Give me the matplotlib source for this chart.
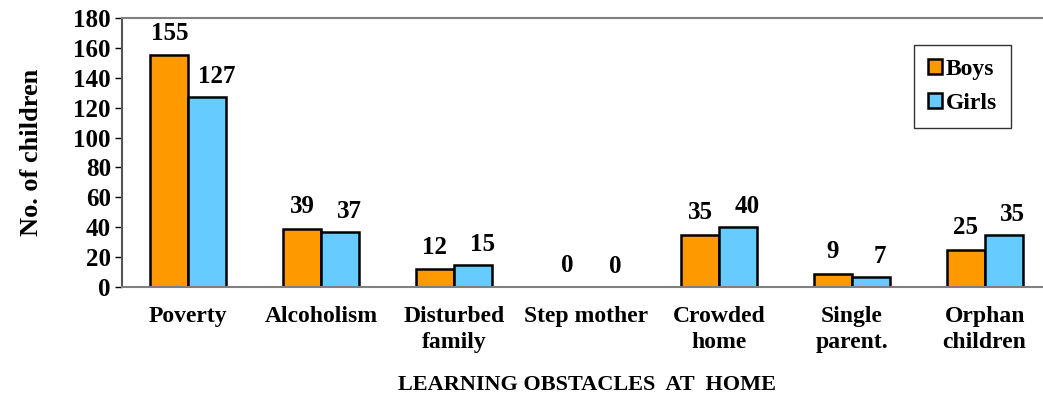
import numpy as np
import matplotlib.pyplot as plt

categories = ["Poverty", "Alcoholism", "Disturbed\nfamily", "Step mother",
              "Crowded\nhome", "Single\nparent.", "Orphan\nchildren"]
boys = [155, 39, 12, 0, 35, 9, 25]
girls = [127, 37, 15, 0, 40, 7, 35]

plt.rcParams['font.family'] = 'Liberation Serif'
plt.rcParams['font.weight'] = 'bold'

fig = plt.figure(figsize=(10.43, 4.0), dpi=100)
ax = fig.add_axes([122/1043, 113/400, 929/1043, 269/400])

x = np.arange(len(categories))
w = 0.286
ax.bar(x - w/2, boys, w, color='#FF9900', edgecolor='black', linewidth=1.8, label='Boys')
ax.bar(x + w/2, girls, w, color='#66CCFF', edgecolor='black', linewidth=1.8, label='Girls')

for i in range(len(x)):
    ax.text(x[i] - w/2, boys[i] + 7, str(boys[i]), ha='center', va='bottom',
            fontsize=18, fontweight='bold')
    ax.text(x[i] + w/2 + 0.07, girls[i] + 6, str(girls[i]), ha='center', va='bottom',
            fontsize=18, fontweight='bold')

ax.set_xlim(-0.5, len(categories) - 0.5)
ax.set_ylim(0, 180)
ax.set_yticks(range(0, 181, 20))
ax.tick_params(axis='y', labelsize=18, length=5, width=1, direction='out', pad=3)
ax.tick_params(axis='x', length=0, labelsize=17, pad=14)
ax.set_xticks(x)
ax.set_xticklabels(categories, fontweight='bold', linespacing=1.3)

ax.spines['top'].set_color('#808080')
ax.spines['bottom'].set_color('#808080')
ax.spines['right'].set_color('#808080')
ax.spines['left'].set_color('#555555')
for s in ax.spines.values():
    s.set_linewidth(1.5)

ax.set_ylabel("No. of children", fontsize=19, fontweight='bold', labelpad=22)
ax.set_xlabel("LEARNING OBSTACLES  AT  HOME", fontsize=16, fontweight='bold', labelpad=16)

leg = ax.legend(loc='upper right', bbox_to_anchor=(0.957, 0.90), borderaxespad=0,
                fontsize=17, frameon=True, fancybox=False, edgecolor='black',
                handlelength=0.6, handleheight=0.6, handletextpad=0.15,
                labelspacing=0.55, borderpad=0.6)
leg.get_frame().set_linewidth(1.0)

fig.savefig("out.png", dpi=100)
